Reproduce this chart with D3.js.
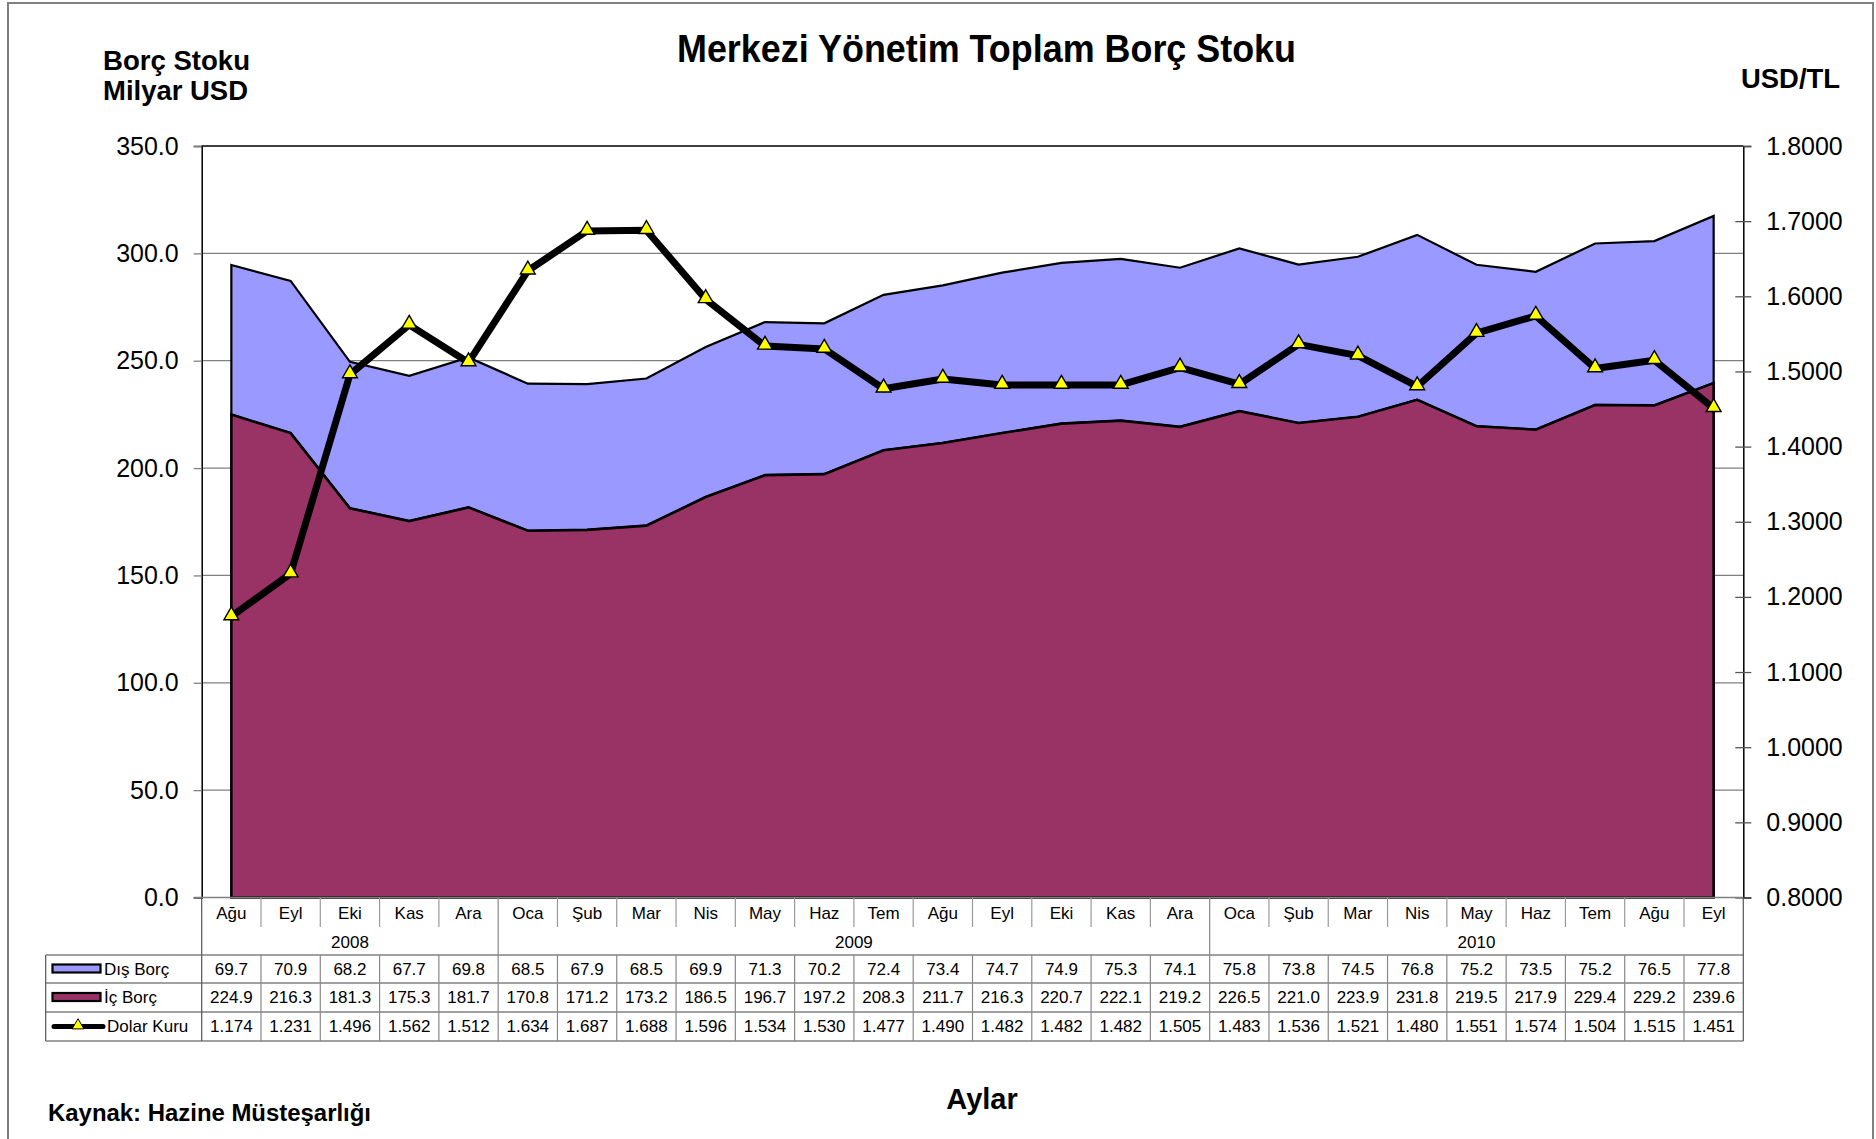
<!DOCTYPE html>
<html>
<head>
<meta charset="utf-8">
<script src="https://cdn.jsdelivr.net/npm/d3@7"></script>
<style>
  body { margin: 0; background: #fff; }
  svg { display: block; font-family: "Liberation Sans", Arial, sans-serif; }
</style>
</head>
<body>
<div id="chart"></div>
<script>
// Months on the category axis, with their years
const months = ['Ağu', 'Eyl', 'Eki', 'Kas', 'Ara',
  'Oca', 'Şub', 'Mar', 'Nis', 'May', 'Haz', 'Tem', 'Ağu', 'Eyl', 'Eki', 'Kas', 'Ara',
  'Oca', 'Şub', 'Mar', 'Nis', 'May', 'Haz', 'Tem', 'Ağu', 'Eyl'];
const years = [
  { label: '2008', start: 0, end: 5 },
  { label: '2009', start: 5, end: 17 },
  { label: '2010', start: 17, end: 26 }
];

// Series values (Milyar USD and USD/TL)
const disBorc = [69.7, 70.9, 68.2, 67.7, 69.8, 68.5, 67.9, 68.5, 69.9, 71.3, 70.2, 72.4, 73.4,
  74.7, 74.9, 75.3, 74.1, 75.8, 73.8, 74.5, 76.8, 75.2, 73.5, 75.2, 76.5, 77.8];
const icBorc = [224.9, 216.3, 181.3, 175.3, 181.7, 170.8, 171.2, 173.2, 186.5, 196.7, 197.2, 208.3, 211.7,
  216.3, 220.7, 222.1, 219.2, 226.5, 221.0, 223.9, 231.8, 219.5, 217.9, 229.4, 229.2, 239.6];
const dolarKuru = [1.174, 1.231, 1.496, 1.562, 1.512, 1.634, 1.687, 1.688, 1.596, 1.534, 1.530, 1.477, 1.490,
  1.482, 1.482, 1.482, 1.505, 1.483, 1.536, 1.521, 1.480, 1.551, 1.574, 1.504, 1.515, 1.451];

// Axis ticks
const leftTicks = [0, 50, 100, 150, 200, 250, 300, 350];
const rightTicks = [0.8, 0.9, 1.0, 1.1, 1.2, 1.3, 1.4, 1.5, 1.6, 1.7, 1.8];

const svgWidth = 1876, svgHeight = 1139;
const plot = { left: 201.7, right: 1743.3, top: 146, bottom: 897.5 };

const blue = '#9999FF', maroon = '#993366';

const svg = d3.select('#chart')
  .append('svg')
  .attr('width', svgWidth)
  .attr('height', svgHeight);

// Outer frame
svg.append('rect')
  .attr('x', 8).attr('y', 3)
  .attr('width', 1865).attr('height', 1150)
  .attr('fill', 'none')
  .attr('stroke', '#808080')
  .attr('stroke-width', 2);

// Scales
const idx = d3.range(months.length);
const x = d3.scaleBand().domain(idx).range([plot.left, plot.right]);
const cx = i => x(i) + x.bandwidth() / 2;
const y = d3.scaleLinear().domain([0, 350]).range([plot.bottom, plot.top]);
const yR = d3.scaleLinear().domain([0.8, 1.8]).range([plot.bottom, plot.top]);

// Gridlines
svg.append('g')
  .selectAll('line')
  .data(leftTicks.filter(d => d > 0 && d < 350))
  .join('line')
  .attr('x1', plot.left).attr('x2', plot.right)
  .attr('y1', d => y(d)).attr('y2', d => y(d))
  .attr('stroke', '#808080')
  .attr('stroke-width', 1.2);

// Stacked areas
const totals = icBorc.map((v, i) => v + disBorc[i]);

const icArea = d3.area()
  .x((d, i) => cx(i))
  .y0(y(0))
  .y1(d => y(d));

const disArea = d3.area()
  .x((d, i) => cx(i))
  .y0((d, i) => y(icBorc[i]))
  .y1(d => y(d));

svg.append('path')
  .datum(totals)
  .attr('d', disArea)
  .attr('fill', blue)
  .attr('stroke', '#000')
  .attr('stroke-width', 2.2)
  .attr('stroke-linejoin', 'miter');

svg.append('path')
  .datum(icBorc)
  .attr('d', icArea)
  .attr('fill', maroon)
  .attr('stroke', '#000')
  .attr('stroke-width', 2.6)
  .attr('stroke-linejoin', 'miter');

// Plot border: top
svg.append('line')
  .attr('x1', plot.left).attr('x2', plot.right)
  .attr('y1', plot.top).attr('y2', plot.top)
  .attr('stroke', '#000').attr('stroke-width', 1.3);

// Left axis
const leftAxis = svg.append('g')
  .attr('transform', `translate(${plot.left},0)`)
  .call(d3.axisLeft(y).tickValues(leftTicks).tickFormat(d3.format('.1f'))
    .tickSize(8).tickPadding(15));
leftAxis.select('.domain').attr('stroke', '#000').attr('stroke-width', 1.5);
leftAxis.selectAll('.tick line').attr('stroke', '#808080').attr('stroke-width', 1.3);
leftAxis.selectAll('text')
  .attr('fill', '#000')
  .style('font-size', '25px')
  .style('font-family', '"Liberation Sans", Arial, sans-serif');

// Right axis
const rightAxis = svg.append('g')
  .attr('transform', `translate(${plot.right},0)`)
  .call(d3.axisRight(yR).tickValues(rightTicks).tickFormat(d3.format('.4f'))
    .tickSize(8).tickPadding(15));
rightAxis.select('.domain').attr('stroke', '#000').attr('stroke-width', 1.5);
rightAxis.selectAll('.tick line')
  .attr('x1', d => d === 1.8 ? 0 : -8)
  .attr('stroke', '#555').attr('stroke-width', 1.3);
rightAxis.selectAll('text')
  .attr('fill', '#000')
  .style('font-size', '25px')
  .style('font-family', '"Liberation Sans", Arial, sans-serif');

// Bottom axis line
svg.append('line')
  .attr('x1', plot.left - 8).attr('x2', plot.right)
  .attr('y1', plot.bottom).attr('y2', plot.bottom)
  .attr('stroke', '#808080').attr('stroke-width', 1.3);

// Dolar Kuru line with triangle markers
const line = d3.line()
  .x((d, i) => cx(i))
  .y(d => yR(d));

svg.append('path')
  .datum(dolarKuru)
  .attr('d', line)
  .attr('fill', 'none')
  .attr('stroke', '#000')
  .attr('stroke-width', 7)
  .attr('stroke-linejoin', 'round');

const tri = d3.symbol().type(d3.symbolTriangle).size(95);
svg.append('g')
  .selectAll('path')
  .data(dolarKuru)
  .join('path')
  .attr('d', tri)
  .attr('transform', (d, i) => `translate(${cx(i)},${yR(d) - 1})`)
  .attr('fill', '#FFFF00')
  .attr('stroke', '#000')
  .attr('stroke-width', 1.4);

// Data table under the chart
const rowLines = [955, 983, 1012, 1041];
const tableLeft = 45.7;
const table = svg.append('g');

// horizontal lines
table.selectAll('line.h')
  .data(rowLines)
  .join('line')
  .attr('class', 'h')
  .attr('x1', tableLeft).attr('x2', plot.right)
  .attr('y1', d => d).attr('y2', d => d)
  .attr('stroke', '#444').attr('stroke-width', 1.2);

// outer verticals
[[tableLeft, 955], [plot.left, plot.bottom], [plot.right, plot.bottom]].forEach(([lx, ly]) => {
  table.append('line')
    .attr('x1', lx).attr('x2', lx)
    .attr('y1', ly).attr('y2', 1041)
    .attr('stroke', '#555').attr('stroke-width', 1.2);
});

// month and year separators
const yearStarts = years.map(d => d.start);
idx.filter(i => i > 0).forEach(i => {
  const sx = x(i);
  if (yearStarts.includes(i)) {
    table.append('line')
      .attr('x1', sx).attr('x2', sx).attr('y1', plot.bottom).attr('y2', 1041)
      .attr('stroke', '#888').attr('stroke-width', 1.2);
  } else {
    table.append('line')
      .attr('x1', sx).attr('x2', sx).attr('y1', plot.bottom).attr('y2', 927)
      .attr('stroke', '#999').attr('stroke-width', 1.2);
    table.append('line')
      .attr('x1', sx).attr('x2', sx).attr('y1', 955).attr('y2', 1041)
      .attr('stroke', '#888').attr('stroke-width', 1.2);
  }
});

// month labels
table.selectAll('text.month')
  .data(months)
  .join('text')
  .attr('class', 'month')
  .attr('x', (d, i) => cx(i))
  .attr('y', 913)
  .attr('dy', '0.35em')
  .attr('text-anchor', 'middle')
  .style('font-size', '17px')
  .text(d => d);

// year labels
table.selectAll('text.year')
  .data(years)
  .join('text')
  .attr('class', 'year')
  .attr('x', d => (x(d.start) + x(d.end - 1) + x.bandwidth()) / 2)
  .attr('y', 942)
  .attr('dy', '0.35em')
  .attr('text-anchor', 'middle')
  .style('font-size', '17px')
  .text(d => d.label);

// value rows
const rows = [
  { name: 'Dış Borç', values: disBorc, fmt: d3.format('.1f'), key: 'area', color: blue },
  { name: 'İç Borç', values: icBorc, fmt: d3.format('.1f'), key: 'area', color: maroon },
  { name: 'Dolar Kuru', values: dolarKuru, fmt: d3.format('.3f'), key: 'line' }
];

rows.forEach((row, r) => {
  const cy = (rowLines[r] + rowLines[r + 1]) / 2;
  table.append('g')
    .selectAll('text')
    .data(row.values)
    .join('text')
    .attr('x', (d, i) => cx(i))
    .attr('y', cy)
    .attr('dy', '0.35em')
    .attr('text-anchor', 'middle')
    .style('font-size', '17px')
    .text(d => row.fmt(d));

  // legend key
  let textX = 104;
  if (row.key === 'area') {
    table.append('rect')
      .attr('x', 52.5).attr('y', cy - 4.5)
      .attr('width', 48).attr('height', 8)
      .attr('fill', row.color)
      .attr('stroke', '#000').attr('stroke-width', 2.2);
  } else {
    textX = 107;
    table.append('line')
      .attr('x1', 54).attr('x2', 103)
      .attr('y1', cy).attr('y2', cy)
      .attr('stroke', '#000').attr('stroke-width', 5)
      .attr('stroke-linecap', 'round');
    table.append('path')
      .attr('d', d3.symbol().type(d3.symbolTriangle).size(60))
      .attr('transform', `translate(78,${cy - 1})`)
      .attr('fill', '#FFFF00')
      .attr('stroke', '#000').attr('stroke-width', 1);
  }
  table.append('text')
    .attr('x', textX)
    .attr('y', cy)
    .attr('dy', '0.35em')
    .style('font-size', '17px')
    .text(row.name);
});

// Titles
svg.append('text')
  .attr('x', 677).attr('y', 62)
  .attr('textLength', 619).attr('lengthAdjust', 'spacingAndGlyphs')
  .style('font-size', '38px').style('font-weight', 'bold')
  .text('Merkezi Yönetim Toplam Borç Stoku');

svg.append('text')
  .attr('x', 103).attr('y', 70)
  .attr('textLength', 147).attr('lengthAdjust', 'spacingAndGlyphs')
  .style('font-size', '28px').style('font-weight', 'bold')
  .text('Borç Stoku');

svg.append('text')
  .attr('x', 103).attr('y', 100)
  .attr('textLength', 145).attr('lengthAdjust', 'spacingAndGlyphs')
  .style('font-size', '28px').style('font-weight', 'bold')
  .text('Milyar USD');

svg.append('text')
  .attr('x', 1741).attr('y', 88)
  .attr('textLength', 99).attr('lengthAdjust', 'spacingAndGlyphs')
  .style('font-size', '27px').style('font-weight', 'bold')
  .text('USD/TL');

svg.append('text')
  .attr('x', 982).attr('y', 1109)
  .attr('text-anchor', 'middle')
  .style('font-size', '29px').style('font-weight', 'bold')
  .text('Aylar');

svg.append('text')
  .attr('x', 48).attr('y', 1121)
  .attr('textLength', 323).attr('lengthAdjust', 'spacingAndGlyphs')
  .style('font-size', '23px').style('font-weight', 'bold')
  .text('Kaynak: Hazine Müsteşarlığı');
</script>
</body>
</html>
